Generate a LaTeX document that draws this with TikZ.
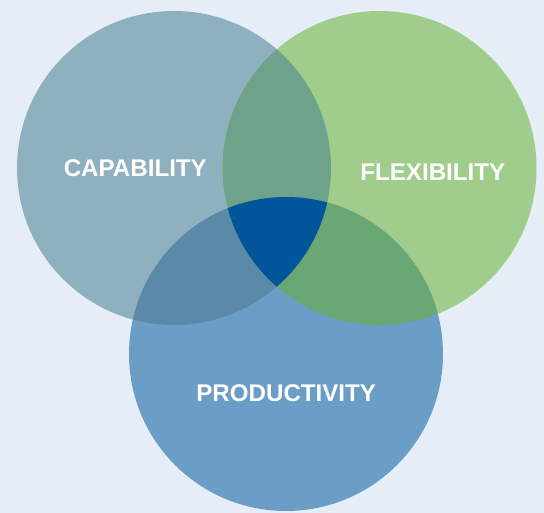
\documentclass[tikz,border=0pt]{standalone}
\usepackage{fontspec}
\setmainfont{Liberation Sans}
\definecolor{bgc}{HTML}{E5EEF6}
\definecolor{capc}{HTML}{8EB0BF}
\definecolor{flexc}{HTML}{A0CD8C}
\definecolor{prodc}{HTML}{6B9EC7}
\definecolor{capflex}{HTML}{6FA28B}
\definecolor{capprod}{HTML}{5A8AA8}
\definecolor{flexprod}{HTML}{69A875}
\definecolor{allc}{HTML}{00559B}
\tikzset{
  lbl/.style={text=white,font=\fontsize{18.1}{20}\selectfont\bfseries,inner sep=0pt,anchor=center},
}
\newcommand{\rr}{117.75pt}
\begin{document}
\begin{tikzpicture}[x=0.75pt,y=-0.75pt]
\fill[bgc] (0,0) rectangle (544,513);
\useasboundingbox (0,0) rectangle (544,513);
\coordinate (C) at (174,168);
\coordinate (F) at (379.5,168);
\coordinate (P) at (286,354);
\fill[capc] (C) circle[radius=\rr];
\fill[flexc] (F) circle[radius=\rr];
\fill[prodc] (P) circle[radius=\rr];
\begin{scope}
  \clip (C) circle[radius=\rr];
  \fill[capflex] (F) circle[radius=\rr];
  \fill[capprod] (P) circle[radius=\rr];
\end{scope}
\begin{scope}
  \clip (F) circle[radius=\rr];
  \fill[flexprod] (P) circle[radius=\rr];
\end{scope}
\begin{scope}
  \clip (C) circle[radius=\rr];
  \clip (F) circle[radius=\rr];
  \fill[allc] (P) circle[radius=\rr];
\end{scope}
\node[lbl] (cap) at (135.3,168) {CAPABILITY};
\node[lbl] (flex) at (432.8,172) {FLEXIBILITY};
\node[lbl] (prod) at (286.2,392.7) {PRODUCTIVITY};
\end{tikzpicture}
\end{document}
